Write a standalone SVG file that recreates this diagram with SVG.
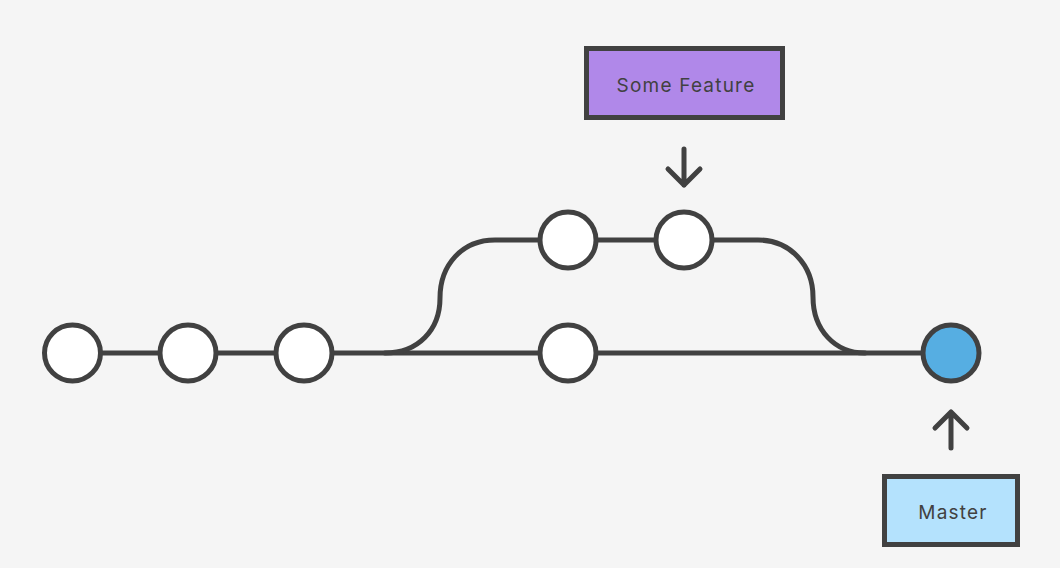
<svg xmlns="http://www.w3.org/2000/svg" width="1060" height="568" viewBox="0 0 1060 568">
<style>
.ln{fill:none;stroke:#414141;stroke-width:5;stroke-linecap:round;stroke-linejoin:round}
.c{fill:#ffffff;stroke:#414141;stroke-width:5}
.lbl{font-family:"Inter","Noto Sans","Liberation Sans",sans-serif;font-size:19px;fill:#414141;text-anchor:middle;letter-spacing:1.2px}
</style>
<rect width="1060" height="568" fill="#f5f5f5"/>
<g id="connectors">
<path class="ln" d="M72,353 H951"/>
<path class="ln" d="M385,353 C418,353 440,330 440,298 C440,265 462,240 495,240 H713"/>
<path class="ln" d="M713,240 H758 C790,240 813,265 813,297 C813,330 835,353 865,353"/>
<path class="ln" d="M684,149 V185 M668,169 L684,185 L700,169"/>
<path class="ln" d="M951,448 V412 M935,428 L951,412 L967,428"/>
</g>
<g id="c1"><circle class="c" cx="72.5" cy="353" r="28"/></g>
<g id="c2"><circle class="c" cx="188" cy="353" r="28"/></g>
<g id="c3"><circle class="c" cx="304" cy="353" r="28"/></g>
<g id="c4"><circle class="c" cx="568" cy="353" r="28"/></g>
<g id="f1"><circle class="c" cx="568" cy="240" r="28"/></g>
<g id="f2"><circle class="c" cx="684" cy="240" r="28"/></g>
<g id="head"><circle class="c" cx="951" cy="353" r="28" style="fill:#56aee2"/></g>
<g id="someFeature">
<rect x="586.5" y="48.5" width="196" height="69" fill="#b088e9" stroke="#414141" stroke-width="5"/>
<text class="lbl" x="686" y="91.5">Some Feature</text>
</g>
<g id="master">
<rect x="884.5" y="476.5" width="133" height="68" fill="#b4e2fd" stroke="#414141" stroke-width="5"/>
<text class="lbl" x="953" y="518.5">Master</text>
</g>
</svg>
